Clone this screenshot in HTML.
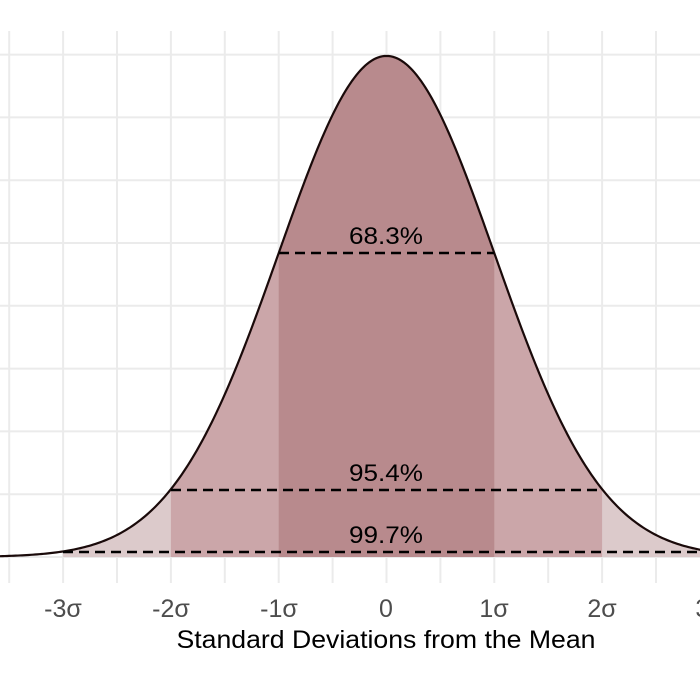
<!DOCTYPE html>
<html><head><meta charset="utf-8"><style>
body{margin:0;background:#fff}
svg{display:block}
text{font-family:"Liberation Sans",sans-serif}
</style></head><body>
<svg id="s" width="700" height="700" xmlns="http://www.w3.org/2000/svg">
<g id="grid" stroke="#ebebeb" stroke-width="2"></g>
<g id="fills"></g>
<path id="curve" fill="none" stroke="#1a0a0a" stroke-width="2.2"/>
<g stroke="#000" stroke-width="2.4" stroke-dasharray="10,6">
<line x1="279" y1="253" x2="494" y2="253"/>
<line x1="171" y1="490" x2="602" y2="490"/>
<line x1="63" y1="552" x2="710" y2="552"/>
</g>
<g font-size="24.5" fill="#000" text-anchor="middle">
<text x="386" y="244" textLength="74" lengthAdjust="spacingAndGlyphs">68.3%</text>
<text x="386" y="481" textLength="74" lengthAdjust="spacingAndGlyphs">95.4%</text>
<text x="386" y="543" textLength="74" lengthAdjust="spacingAndGlyphs">99.7%</text>
</g>
<g font-size="25" fill="#4d4d4d" text-anchor="middle">
<text x="63" y="617">-3σ</text>
<text x="171" y="617">-2σ</text>
<text x="279" y="617">-1σ</text>
<text x="386" y="617">0</text>
<text x="494" y="617">1σ</text>
<text x="602" y="617">2σ</text>
<text x="710" y="617">3σ</text>
</g>
<text x="386" y="648" font-size="25" text-anchor="middle" fill="#000" textLength="419" lengthAdjust="spacingAndGlyphs">Standard Deviations from the Mean</text>
</svg>
<script>
var X0=386.5,S=107.8,B=557,K=1256;
function px(z){return X0+z*S}
function py(z){return B-K*Math.exp(-z*z/2)/Math.sqrt(2*Math.PI)}
var g=document.getElementById('grid'),h='';
for(var i=-7;i<=7;i++){var x=px(i/2);h+='<line x1="'+x+'" y1="31" x2="'+x+'" y2="583"/>';}
for(var j=0;j<9;j++){var y=B-j*62.8;h+='<line x1="0" y1="'+y+'" x2="700" y2="'+y+'"/>';}
g.innerHTML=h;
function area(a,b){var d='M'+px(a)+','+B;for(var z=a;z<=b+1e-9;z+=0.02)d+='L'+px(z)+','+py(z);d+='L'+px(b)+','+py(b)+'L'+px(b)+','+B+'Z';return d;}
var f=document.getElementById('fills');
f.innerHTML='<path d="'+area(-3,3)+'" fill="#dccacb"/><path d="'+area(-2,2)+'" fill="#cba6a9"/><path d="'+area(-1,1)+'" fill="#b88a8d"/>';
var d='';for(var z=-3.7;z<=3.7;z+=0.02)d+=(d?'L':'M')+px(z)+','+py(z);
document.getElementById('curve').setAttribute('d',d);
</script>
</body></html>
